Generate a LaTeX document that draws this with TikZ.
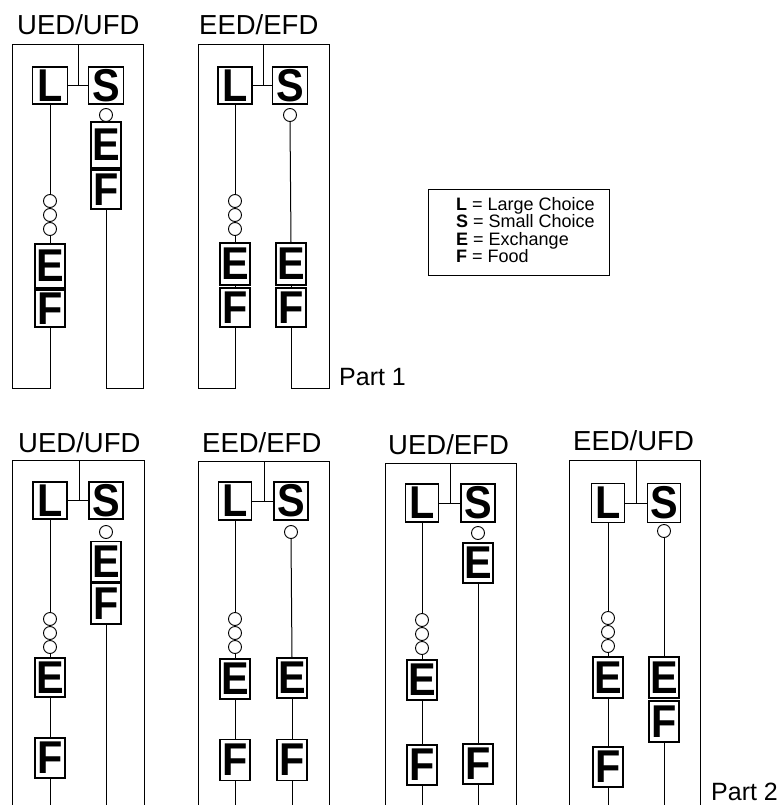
\documentclass[tikz,border=0pt]{standalone}
\usepackage{fontspec}
\setmainfont{Liberation Sans}
\usepackage{graphicx}
% bold, slightly condensed letter inside a step box
\newcommand\boxletter[1]{\scalebox{0.9}[1]{\fontsize{46}{46}\selectfont\bfseries #1}}
% \bx{name}{cx}{cy}{width}{height}{letter}
\newcommand\bx[6]{\node[ebox, minimum width=#4pt, minimum height=#5pt] (#1) at (#2,#3) {\boxletter{#6}};}
\begin{document}
\begin{tikzpicture}[x=1pt,y=-1pt,
  frame/.style={line width=1pt},
  link/.style={line width=1pt},
  ebox/.style={draw, rectangle, line width=1.2pt, inner sep=0pt},
  ring/.style={draw, circle, line width=0.9pt, minimum size=13pt, inner sep=0pt, fill=white},
  title/.style={font=\fontsize{27.5}{27.5}\selectfont, inner sep=0pt},
  partlabel/.style={font=\fontsize{25}{25}\selectfont, inner sep=0pt},
  legtext/.style={font=\fontsize{18}{18}\selectfont, inner sep=0pt, anchor=base west}]
\useasboundingbox (0,0) rectangle (779,805);

% ---------------- Part 1 ----------------
% panel 1: UED/UFD
\node[title, anchor=base west] (t1) at (17,35) {UED/UFD};
\coordinate (p1tl) at (12,45);
\coordinate (p1br) at (143,388);
\coordinate (p1j) at (78,45);
\bx{p1L}{50}{85.5}{35}{37}{L}
\bx{p1S}{106}{85.5}{35}{37}{S}
\node[ring] (p1s) at (106,115) {};
\bx{p1SE}{106}{145}{30}{46}{E}
\bx{p1SF}{106}{189.5}{30}{39}{F}
\node[ring] (p1a) at (50,201) {};
\node[ring] (p1b) at (50,215) {};
\node[ring] (p1c) at (50,229) {};
\bx{p1LE}{50}{266}{30}{44}{E}
\bx{p1LF}{50}{308.5}{30}{37}{F}
\draw[link] (p1j) -- (p1j |- p1L.east);
\draw[link] (p1L.east) -- (p1S.west);
\draw[link] (p1L.south) -- (p1a.north);
\draw[link] (p1c.south) -- (p1LE.north);
\draw[link] (p1LE.south) -- (p1LF.north);
\draw[frame] (p1LF.south) |- (p1tl |- p1br) -- (p1tl) -- (p1br |- p1tl) -- (p1br) -| (p1SF.south);

% panel 2: EED/EFD
\node[title, anchor=base west] (t2) at (199,35) {EED/EFD};
\coordinate (p2tl) at (198,45);
\coordinate (p2br) at (329,388);
\coordinate (p2j) at (263,45);
\bx{p2L}{235}{85.5}{34}{37}{L}
\bx{p2S}{290}{85.5}{35}{37}{S}
\node[ring] (p2s) at (290,115) {};
\bx{p2SE}{291}{264}{30}{42}{E}
\bx{p2SF}{291}{307.5}{30}{39}{F}
\node[ring] (p2a) at (235,201) {};
\node[ring] (p2b) at (235,215) {};
\node[ring] (p2c) at (235,229) {};
\bx{p2LE}{235}{264}{30}{42}{E}
\bx{p2LF}{235}{307.5}{30}{39}{F}
\draw[link] (p2j) -- (p2j |- p2L.east);
\draw[link] (p2L.east) -- (p2S.west);
\draw[link] (p2L.south) -- (p2a.north);
\draw[link] (p2c.south) -- (p2LE.north);
\draw[link] (p2LE.south) -- (p2LF.north);
\draw[link] (p2s.south) -- (p2SE.north);
\draw[link] (p2SE.south) -- (p2SF.north);
\draw[frame] (p2LF.south) |- (p2tl |- p2br) -- (p2tl) -- (p2br |- p2tl) -- (p2br) -| (p2SF.south);

\node[partlabel, anchor=base west] (part1) at (339,385) {Part 1};

% legend
\node[draw, line width=1pt, rectangle, minimum width=181pt, minimum height=86pt, inner sep=0pt] (legend) at (518.5,232) {};
\node[legtext] (lgL) at (456,210) {\textbf{L} = Large Choice};
\node[legtext] (lgS) at (456,227.5) {\textbf{S} = Small Choice};
\node[legtext] (lgE) at (456,245) {\textbf{E} = Exchange};
\node[legtext] (lgF) at (456,262.5) {\textbf{F} = Food};

% ---------------- Part 2 ----------------
% panel 3: UED/UFD
\node[title, anchor=base west] (t3) at (18,452) {UED/UFD};
\coordinate (p3tl) at (12,460);
\coordinate (p3tr) at (144,460);
\coordinate (p3j) at (79,460);
\bx{p3L}{50}{500.5}{34}{37}{L}
\bx{p3S}{106}{500.5}{34}{37}{S}
\node[ring] (p3s) at (106,532) {};
\bx{p3SE}{106}{561.5}{30}{40}{E}
\bx{p3SF}{106}{603.5}{30}{41}{F}
\node[ring] (p3a) at (50,619) {};
\node[ring] (p3b) at (50,633) {};
\node[ring] (p3c) at (50,647) {};
\bx{p3LE}{50}{677.5}{30}{39}{E}
\bx{p3LF}{50}{758}{30}{40}{F}
\draw[link] (p3j) -- (p3j |- p3L.east);
\draw[link] (p3L.east) -- (p3S.west);
\draw[link] (p3L.south) -- (p3a.north);
\draw[link] (p3c.south) -- (p3LE.north);
\draw[link] (p3LE.south) -- (p3LF.north);
\draw[link] (p3LF.south) -- (50,805);
\draw[link] (p3SF.south) -- (106,805);
\draw[frame] (12,805) -- (p3tl) -- (p3tr) -- (144,805);

% panel 4: EED/EFD
\node[title, anchor=base west] (t4) at (202,452) {EED/EFD};
\coordinate (p4tl) at (198,461);
\coordinate (p4tr) at (329,461);
\coordinate (p4j) at (264,461);
\bx{p4L}{235}{501}{33}{38}{L}
\bx{p4S}{291}{501}{34}{38}{S}
\node[ring] (p4s) at (291,532) {};
\bx{p4SE}{292}{678}{30}{40}{E}
\bx{p4SF}{292}{760}{30}{41}{F}
\node[ring] (p4a) at (235,619) {};
\node[ring] (p4b) at (235,633) {};
\node[ring] (p4c) at (235,647) {};
\bx{p4LE}{235}{679}{30}{40}{E}
\bx{p4LF}{235}{760}{30}{41}{F}
\draw[link] (p4j) -- (p4j |- p4L.east);
\draw[link] (p4L.east) -- (p4S.west);
\draw[link] (p4L.south) -- (p4a.north);
\draw[link] (p4c.south) -- (p4LE.north);
\draw[link] (p4LE.south) -- (p4LF.north);
\draw[link] (p4s.south) -- (p4SE.north);
\draw[link] (p4SE.south) -- (p4SF.north);
\draw[link] (p4LF.south) -- (235,805);
\draw[link] (p4SF.south) -- (292,805);
\draw[frame] (198,805) -- (p4tl) -- (p4tr) -- (329,805);

% panel 5: UED/EFD
\node[title, anchor=base west] (t5) at (388,454) {UED/EFD};
\coordinate (p5tl) at (385,463);
\coordinate (p5tr) at (516,463);
\coordinate (p5j) at (450,463);
\bx{p5L}{422}{503}{33}{38}{L}
\bx{p5S}{478}{503}{34}{38}{S}
\node[ring] (p5s) at (478,533) {};
\bx{p5SE}{478}{563}{30}{40}{E}
\bx{p5SF}{478}{764}{30}{40}{F}
\node[ring] (p5a) at (422,620) {};
\node[ring] (p5b) at (422,634) {};
\node[ring] (p5c) at (422,648) {};
\bx{p5LE}{422}{680}{30}{40}{E}
\bx{p5LF}{422}{765}{30}{40}{F}
\draw[link] (p5j) -- (p5j |- p5L.east);
\draw[link] (p5L.east) -- (p5S.west);
\draw[link] (p5L.south) -- (p5a.north);
\draw[link] (p5c.south) -- (p5LE.north);
\draw[link] (p5LE.south) -- (p5LF.north);
\draw[link] (p5SE.south) -- (p5SF.north);
\draw[link] (p5LF.south) -- (422,805);
\draw[link] (p5SF.south) -- (478,805);
\draw[frame] (385,805) -- (p5tl) -- (p5tr) -- (516,805);

% panel 6: EED/UFD
\node[title, anchor=base west] (t6) at (573,450) {EED/UFD};
\coordinate (p6tl) at (569,460);
\coordinate (p6tr) at (700,460);
\coordinate (p6j) at (636,460);
\bx{p6L}{608}{503}{33}{39}{L}
\bx{p6S}{664}{503}{33}{39}{S}
\node[ring] (p6s) at (664,531) {};
\bx{p6SE}{664}{677.5}{30}{41}{E}
\bx{p6SF}{664}{721.5}{30}{41}{F}
\node[ring] (p6a) at (608,618) {};
\node[ring] (p6b) at (608,632) {};
\node[ring] (p6c) at (608,646) {};
\bx{p6LE}{608}{677.5}{30}{41}{E}
\bx{p6LF}{608}{767}{30}{40}{F}
\draw[link] (p6j) -- (p6j |- p6L.east);
\draw[link] (p6L.east) -- (p6S.west);
\draw[link] (p6L.south) -- (p6a.north);
\draw[link] (p6c.south) -- (p6LE.north);
\draw[link] (p6LE.south) -- (p6LF.north);
\draw[link] (p6s.south) -- (p6SE.north);
\draw[link] (p6LF.south) -- (608,805);
\draw[link] (p6SF.south) -- (664,805);
\draw[frame] (569,805) -- (p6tl) -- (p6tr) -- (700,805);

\node[partlabel, anchor=base west] (part2) at (711,800) {Part 2};
\end{tikzpicture}
\end{document}
